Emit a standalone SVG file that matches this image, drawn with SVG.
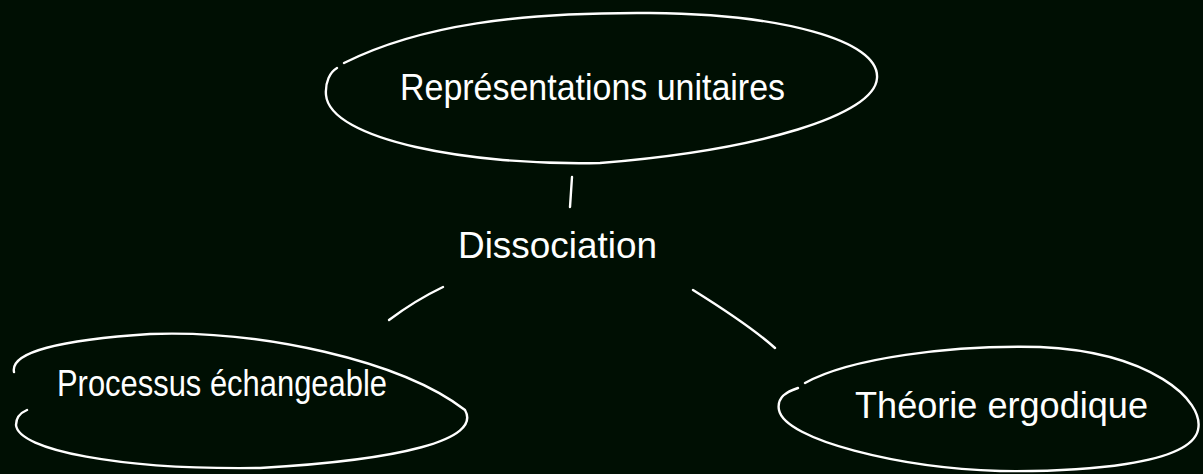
<svg xmlns="http://www.w3.org/2000/svg" width="1203" height="474" viewBox="0 0 1203 474">
<style>
.bg{fill:#000f03}
.s{fill:none;stroke:#ffffff;stroke-width:2.4;stroke-linecap:round;stroke-linejoin:round}
.t{fill:#ffffff;font-family:"Liberation Sans","DejaVu Sans",sans-serif;font-weight:normal}
</style>
<rect class="bg" x="0" y="0" width="1203" height="474"/>
<g id="node-representations">
<path class="s" d="M 344 63 C 420 25, 520 12, 650 13 C 780 14, 880 40, 877 78 C 875 115, 760 150, 600 163 C 470 166, 330 140, 326 95 C 325 82, 330 72, 337 68"/>
<text class="t" x="400" y="100" font-size="36" textLength="385" lengthAdjust="spacingAndGlyphs">Représentations unitaires</text>
</g>
<g id="node-dissociation">
<text class="t" x="458" y="258" font-size="36" textLength="199" lengthAdjust="spacingAndGlyphs">Dissociation</text>
</g>
<g id="node-processus">
<path class="s" d="M 14 372 C 10 352, 60 340, 150 334 C 260 330, 400 360, 465 410 C 482 440, 400 460, 260 468 C 120 470, 18 450, 16 425 C 16 418, 20 413, 27 410"/>
<text class="t" x="57" y="396" font-size="36" textLength="330" lengthAdjust="spacingAndGlyphs">Processus échangeable</text>
</g>
<g id="node-theorie">
<path class="s" d="M 805 383 C 850 358, 950 345, 1040 347 C 1150 352, 1205 400, 1198 430 C 1190 465, 1080 472, 1000 471 C 900 468, 785 440, 779 410 C 777 400, 782 393, 798 388"/>
<text class="t" x="855" y="418" font-size="36" textLength="293" lengthAdjust="spacingAndGlyphs">Théorie ergodique</text>
</g>
<g id="connectors">
<path class="s" d="M 572 177 L 570 207"/>
<path class="s" d="M 443 287 C 420 298, 405 308, 389 320"/>
<path class="s" d="M 693 290 C 725 310, 755 330, 775 348"/>
</g>
</svg>
